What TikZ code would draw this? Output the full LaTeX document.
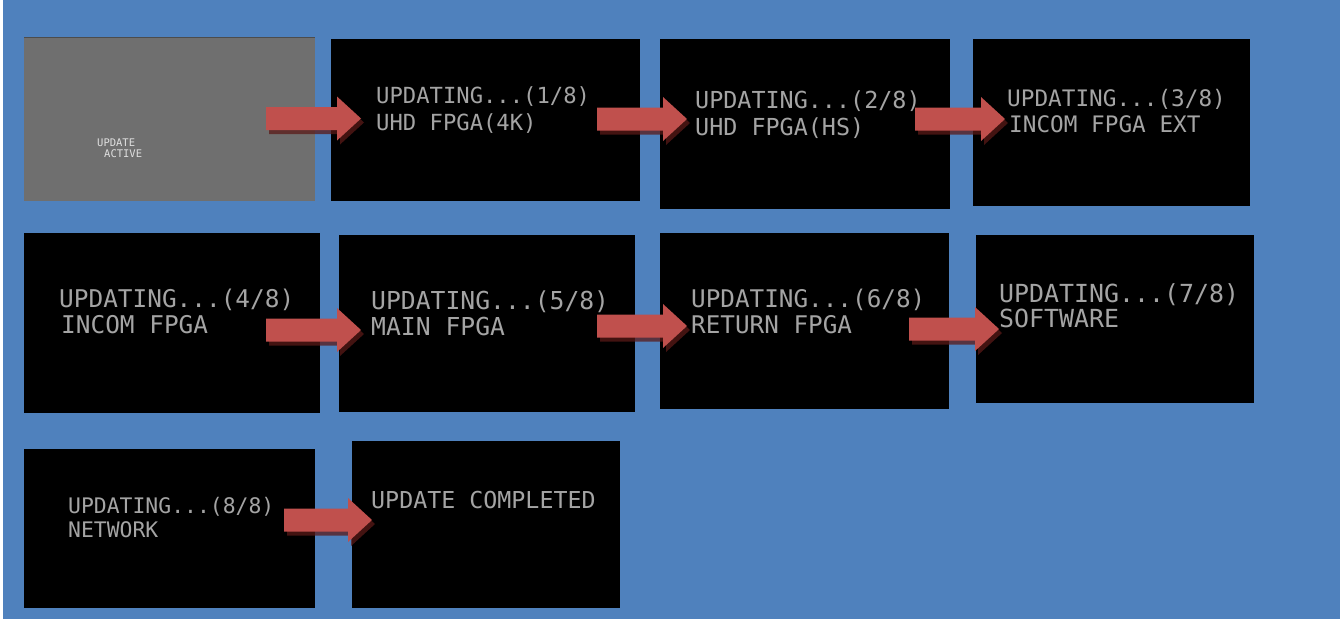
\documentclass[tikz,border=0pt]{standalone}
\usepackage{fontspec}
\newfontfamily\scrfont{DejaVu Sans Mono}
\definecolor{bgblue}{HTML}{4F81BD}
\definecolor{arrred}{HTML}{C0504D}
\definecolor{arrshadow}{HTML}{5A1A18}
\definecolor{scrtext}{HTML}{A4A4A4}
\definecolor{scrgray}{HTML}{6F6F6F}
\tikzset{
  scr/.style={fill=black, inner sep=0pt, outer sep=0pt, anchor=north west},
  scrline/.style={anchor=base west, inner sep=0pt, text=scrtext, font=\scrfont\fontsize{#1}{#1}\selectfont},
  scrline/.default=22.2,
  smallline/.style={anchor=base west, inner sep=0pt, text=white!88!black, font=\scrfont\fontsize{10.5}{12}\selectfont},
  blockarrow/.style={fill=arrred},
  blockshadow/.style={fill=arrshadow, opacity=0.75}
}
% #1 name, #2 x of shaft left, #3 y of mid, #4 total length
\newcommand{\redarrow}[4]{%
  \coordinate (#1) at (#2,#3);
  \fill[blockshadow, shift={(#1)}, xshift=3pt, yshift=-4pt]
    (0,-11.5) -- (#4-24,-11.5) -- (#4-24,-22) -- (#4,0) -- (#4-24,22) -- (#4-24,11.5) -- (0,11.5) -- cycle;
  \fill[blockarrow, shift={(#1)}]
    (0,-11.5) -- (#4-24,-11.5) -- (#4-24,-22) -- (#4,0) -- (#4-24,22) -- (#4-24,11.5) -- (0,11.5) -- cycle;
}
\begin{document}
\begin{tikzpicture}[x=1pt, y=-1pt]
\useasboundingbox (0,0) rectangle (1340,619);
\fill[bgblue] (3,0) rectangle (1340,619);

% screens row 1
\node[scr, fill=scrgray, minimum width=291pt, minimum height=164pt] (s0) at (24,37) {};
\draw[black!70, line width=1pt] (s0.north west) -- (s0.north east);
\node[scr, minimum width=309pt, minimum height=162pt] (s1) at (331,39) {};
\node[scr, minimum width=290pt, minimum height=170pt] (s2) at (660,39) {};
\node[scr, minimum width=277pt, minimum height=167pt] (s3) at (973,39) {};
% row 2
\node[scr, minimum width=296pt, minimum height=180pt] (s4) at (24,233) {};
\node[scr, minimum width=296pt, minimum height=177pt] (s5) at (339,235) {};
\node[scr, minimum width=289pt, minimum height=176pt] (s6) at (660,233) {};
\node[scr, minimum width=278pt, minimum height=168pt] (s7) at (976,235) {};
% row 3
\node[scr, minimum width=291pt, minimum height=159pt] (s8) at (24,449) {};
\node[scr, minimum width=268pt, minimum height=167pt] (s9) at (352,441) {};

% texts
\node[smallline] (t0a) at (97,146) {UPDATE};
\node[smallline] (t0b) at (104,157) {ACTIVE};

\node[scrline=22.2] (t1a) at (376,103) {UPDATING...(1/8)};
\node[scrline=22.2] (t1b) at (376,130) {UHD FPGA(4K)};
\node[scrline=23.4] (t2a) at (695,108) {UPDATING...(2/8)};
\node[scrline=23.4] (t2b) at (695,135) {UHD FPGA(HS)};
\node[scrline=22.7] (t3a) at (1007,106) {UPDATING...(3/8)};
\node[scrline=22.7] (t3b) at (1009,132) {INCOM FPGA EXT};

\node[scrline=24.4] (t4a) at (59,307) {UPDATING...(4/8)};
\node[scrline=24.4] (t4b) at (61,333) {INCOM FPGA};
\node[scrline=24.7] (t5a) at (371,309) {UPDATING...(5/8)};
\node[scrline=24.7] (t5b) at (371,335) {MAIN FPGA};
\node[scrline=24.3] (t6a) at (691,307) {UPDATING...(6/8)};
\node[scrline=24.3] (t6b) at (691,333) {RETURN FPGA};
\node[scrline=24.9] (t7a) at (999,302) {UPDATING...(7/8)};
\node[scrline=24.9] (t7b) at (999,327) {SOFTWARE};

\node[scrline=21.4] (t8a) at (68,513) {UPDATING...(8/8)};
\node[scrline=21.4] (t8b) at (68,537) {NETWORK};
\node[scrline=23.3] (t9a) at (371,508) {UPDATE COMPLETED};

% arrows
\redarrow{a1}{266}{118.5}{95}
\redarrow{a2}{597}{119}{90}
\redarrow{a3}{915}{119}{90}
\redarrow{a4}{266}{330}{95}
\redarrow{a5}{597}{326}{90}
\redarrow{a6}{909}{329}{90}
\redarrow{a7}{284}{520}{88}
\end{tikzpicture}
\end{document}
